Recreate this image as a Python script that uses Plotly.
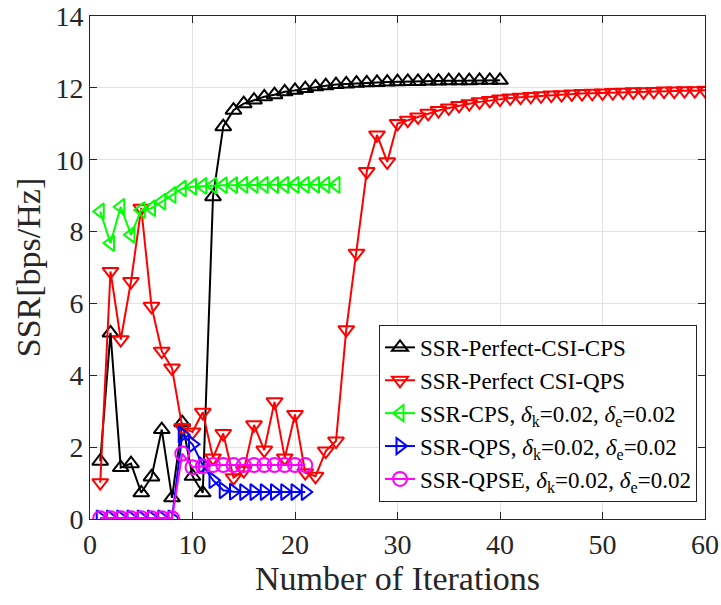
import plotly.graph_objects as go

# Iteration indices for each algorithm
iters_cps_perfect = list(range(1, 41))
iters_qps_perfect = list(range(1, 61))
iters_cps = list(range(1, 25))
iters_qps = list(range(1, 22))
iters_qpse = list(range(1, 22))

# SSR values [bps/Hz]
ssr_cps_perfect = [1.61, 5.18, 1.43, 1.54, 0.73, 1.17, 2.49, 0.59, 2.68, 1.19,
                   0.73, 8.97, 10.92, 11.38, 11.56, 11.66, 11.75, 11.81, 11.89, 11.93,
                   11.98, 12.03, 12.06, 12.09, 12.11, 12.13, 12.14, 12.15, 12.16, 12.17,
                   12.18, 12.18, 12.19, 12.19, 12.20, 12.20, 12.20, 12.21, 12.21, 12.21]
ssr_qps_perfect = [1.01, 6.89, 4.99, 6.61, 8.65, 5.92, 4.67, 4.20, 2.55, 2.42,
                   2.97, 1.70, 2.38, 1.15, 1.35, 2.62, 1.92, 3.26, 1.70, 2.91,
                   1.29, 1.19, 1.89, 2.17, 5.27, 7.40, 9.67, 10.69, 9.94, 11.01,
                   11.10, 11.19, 11.29, 11.37, 11.44, 11.51, 11.56, 11.61, 11.65, 11.69,
                   11.72, 11.74, 11.76, 11.78, 11.80, 11.81, 11.83, 11.84, 11.85, 11.86,
                   11.87, 11.88, 11.89, 11.89, 11.90, 11.91, 11.91, 11.92, 11.92, 11.93]
ssr_cps = [8.56, 7.68, 8.69, 7.91, 8.60, 8.65, 8.83, 9.02, 9.20, 9.25,
           9.27, 9.28, 9.29, 9.29, 9.30, 9.30, 9.30, 9.30, 9.30, 9.30,
           9.30, 9.30, 9.30, 9.30]
ssr_qps = [0.02, 0.02, 0.02, 0.02, 0.02, 0.02, 0.02, 0.02, 2.35, 2.08,
           1.50, 1.08, 0.80, 0.76, 0.75, 0.75, 0.75, 0.75, 0.75, 0.75, 0.75]
ssr_qpse = [0.02, 0.02, 0.02, 0.02, 0.02, 0.02, 0.02, 0.02, 1.82, 1.44,
            1.47, 1.50, 1.50, 1.50, 1.50, 1.50, 1.50, 1.50, 1.50, 1.50, 1.50]

x_ticks = [0, 10, 20, 30, 40, 50, 60]
y_ticks = [0, 2, 4, 6, 8, 10, 12, 14]

delta = "<i>δ</i><sub>k</sub>=0.02, <i>δ</i><sub>e</sub>=0.02"
series = [
    (iters_cps_perfect, ssr_cps_perfect, "SSR-Perfect-CSI-CPS", "#000000", "triangle-up-open"),
    (iters_qps_perfect, ssr_qps_perfect, "SSR-Perfect CSI-QPS", "#FF0000", "triangle-down-open"),
    (iters_cps, ssr_cps, "SSR-CPS, " + delta, "#00FF00", "triangle-left-open"),
    (iters_qps, ssr_qps, "SSR-QPS, " + delta, "#0000FF", "triangle-right-open"),
    (iters_qpse, ssr_qpse, "SSR-QPSE, " + delta, "#FF00FF", "circle-open"),
]

fig = go.Figure()
for xs, ys, name, color, symbol in series:
    fig.add_trace(go.Scatter(
        x=xs, y=ys, name=name, mode="lines+markers",
        line=dict(color=color, width=2),
        marker=dict(symbol=symbol, size=14, color=color, line=dict(color=color, width=2)),
    ))

font_family = "Liberation Serif, Times New Roman, serif"
axis_common = dict(
    showgrid=True, gridcolor="#e3e3e3", gridwidth=1,
    showline=True, linecolor="#262626", linewidth=1, mirror="ticks",
    ticks="inside", ticklen=7, tickcolor="#262626",
    tickfont=dict(family=font_family, size=28, color="#262626"),
    ticklabeloverflow="allow", automargin=False,
    zeroline=False,
)

fig.update_layout(
    width=721, height=605,
    margin=dict(l=90, r=16, t=16, b=86),
    paper_bgcolor="white", plot_bgcolor="white",
    font=dict(family=font_family, color="#262626"),
    showlegend=True,
    legend=dict(
        x=0.987, y=0.034, xanchor="right", yanchor="bottom",
        bgcolor="white", bordercolor="#262626", borderwidth=1,
        font=dict(family=font_family, size=23, color="#000000"),
        itemwidth=30, tracegroupgap=0,
    ),
    xaxis=dict(
        axis_common, range=[0, 60], tickvals=x_ticks,
        title=dict(text="Number of Iterations", font=dict(family=font_family, size=34, color="#262626"), standoff=4),
    ),
    yaxis=dict(
        axis_common, range=[0, 14], tickvals=y_ticks,
        title=dict(text="SSR[bps/Hz]", font=dict(family=font_family, size=34, color="#262626"), standoff=4),
    ),
)

fig.write_html("out.html")
